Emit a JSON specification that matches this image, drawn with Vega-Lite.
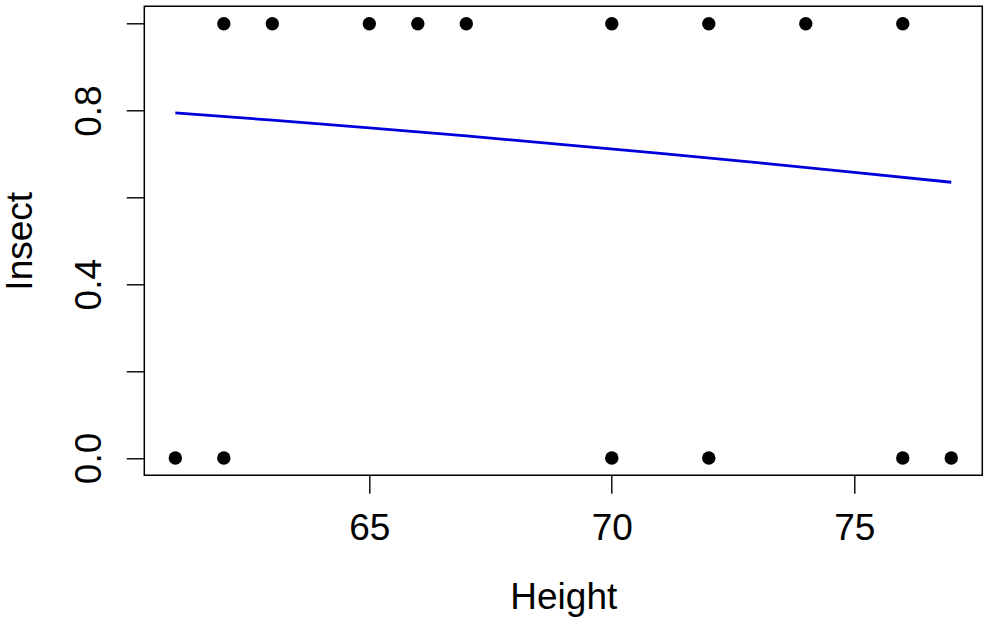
{
  "$schema": "https://vega.github.io/schema/vega-lite/v6.json",
  "width": 838,
  "height": 469,
  "autosize": {"type": "none"},
  "padding": {"left": 144.3, "top": 6.3, "right": 10, "bottom": 146},
  "background": "white",
  "config": {
    "font": "Liberation Sans",
    "view": {"stroke": "black", "strokeWidth": 1.5},
    "axis": {
      "grid": false,
      "domain": false,
      "tickColor": "black",
      "tickWidth": 1.4,
      "tickSize": 18,
      "labelFont": "Liberation Sans",
      "labelFontSize": 37,
      "labelColor": "black",
      "titleFont": "Liberation Sans",
      "titleFontSize": 37,
      "titleFontWeight": "normal",
      "titleColor": "black",
      "labelFlush": false,
      "labelOverlap": false
    }
  },
  "datasets": {
    "obs": [
      {"Height": 61, "Insect": 0},
      {"Height": 62, "Insect": 1},
      {"Height": 62, "Insect": 0},
      {"Height": 63, "Insect": 1},
      {"Height": 65, "Insect": 1},
      {"Height": 66, "Insect": 1},
      {"Height": 67, "Insect": 1},
      {"Height": 70, "Insect": 1},
      {"Height": 70, "Insect": 0},
      {"Height": 72, "Insect": 1},
      {"Height": 72, "Insect": 0},
      {"Height": 74, "Insect": 1},
      {"Height": 76, "Insect": 1},
      {"Height": 76, "Insect": 0},
      {"Height": 77, "Insect": 0}
    ],
    "fit": [
      {"Height": 61, "p": 0.7946},
      {"Height": 63, "p": 0.7778},
      {"Height": 65, "p": 0.7601},
      {"Height": 67, "p": 0.7414},
      {"Height": 69, "p": 0.7217},
      {"Height": 71, "p": 0.7012},
      {"Height": 73, "p": 0.6798},
      {"Height": 75, "p": 0.6577},
      {"Height": 77, "p": 0.6348}
    ]
  },
  "layer": [
    {
      "data": {"name": "obs"},
      "mark": {"type": "point", "filled": true, "size": 180, "color": "black", "opacity": 1},
      "encoding": {
        "x": {
          "field": "Height", "type": "quantitative",
          "scale": {"domain": [60.36, 77.64], "nice": false, "zero": false},
          "axis": {
            "title": "Height",
            "values": [65, 70, 75],
            "labelBaseline": "alphabetic",
            "labelPadding": 46,
            "titleBaseline": "alphabetic",
            "titleY": 133
          }
        },
        "y": {
          "field": "Insect", "type": "quantitative",
          "scale": {"domain": [-0.04, 1.04], "nice": false, "zero": false},
          "axis": {
            "title": "Insect",
            "values": [0, 0.2, 0.4, 0.6, 0.8, 1.0],
            "labelExpr": "(datum.value == 0 || abs(datum.value - 0.4) < 0.001 || abs(datum.value - 0.8) < 0.001) ? format(datum.value, '.1f') : ''",
            "labelAngle": -90,
            "labelAlign": "center",
            "labelBaseline": "alphabetic",
            "labelPadding": 26,
            "titleBaseline": "alphabetic",
            "titleX": -112.6,
            "titleAngle": -90
          }
        }
      }
    },
    {
      "data": {"name": "fit"},
      "mark": {"type": "line", "color": "#0000DD", "strokeWidth": 2.8},
      "encoding": {
        "x": {"field": "Height", "type": "quantitative"},
        "y": {"field": "p", "type": "quantitative"}
      }
    }
  ]
}
